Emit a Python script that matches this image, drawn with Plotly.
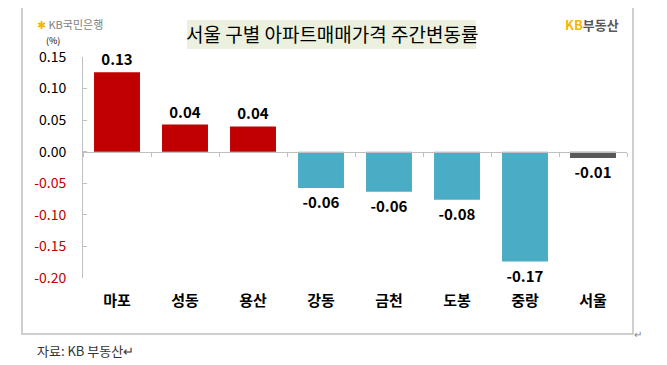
import plotly.graph_objects as go

categories = ["마포", "성동", "용산", "강동", "금천", "도봉", "중랑", "서울"]
values = [0.126, 0.043, 0.040, -0.0575, -0.0635, -0.076, -0.174, -0.0098]
labels = ["0.13", "0.04", "0.04", "-0.06", "-0.06", "-0.08", "-0.17", "-0.01"]
colors = ["#C00000", "#C00000", "#C00000", "#4BACC6", "#4BACC6", "#4BACC6", "#4BACC6", "#595959"]
ytick_vals = [0.15, 0.10, 0.05, 0.00, -0.05, -0.10, -0.15, -0.20]
ytick_text = ["0.15", "0.10", "0.05", "0.00", "-0.05", "-0.10", "-0.15", "-0.20"]

# page body has an 8px margin; work in reference pixel coordinates and shift
O = 8
W, H = 667 - O, 365 - O
L, T = 83 - O, 57 - O
PW, PH = 544, 221
R, B = W - L - PW, H - T - PH
FONT = "Noto Sans CJK KR"


def px(x):
    return (x - O - L) / PW


def py(y):
    return 1 - (y - O - T) / PH


def tick_label(v, t):
    if v < 0:
        return f"<span style='color:#C00000'>{t}</span>"
    return t


fig = go.Figure()
fig.add_trace(go.Bar(
    x=categories, y=values, marker=dict(color=colors, line=dict(width=0)),
    text=labels, textposition="outside", cliponaxis=False,
    textfont=dict(family=FONT, size=15, color="#000000", weight="bold"),
    hoverinfo="skip", xaxis="x", yaxis="y",
))
# invisible trace carrying the bottom category labels
fig.add_trace(go.Scatter(
    x=categories, y=[0] * len(categories), mode="markers",
    marker=dict(opacity=0), hoverinfo="skip", xaxis="x2", yaxis="y", showlegend=False,
))

fig.update_layout(
    width=W, height=H, margin=dict(l=L, r=R, t=T, b=B, autoexpand=False),
    paper_bgcolor="white", plot_bgcolor="white", showlegend=False,
    bargap=0.324,
    font=dict(family=FONT, size=14, color="#000000"),
    xaxis=dict(
        type="category", anchor="free", position=0.2 / 0.35,
        showline=True, linecolor="#BFBFBF", linewidth=1,
        ticks="outside", tickson="boundaries", ticklen=4, tickcolor="#BFBFBF",
        showticklabels=False, showgrid=False, zeroline=False, fixedrange=True,
    ),
    xaxis2=dict(
        type="category", overlaying="x", side="bottom", anchor="y",
        showline=False, ticks="", showgrid=False, zeroline=False,
        tickfont=dict(family=FONT, size=15, color="#000000", weight="bold"),
        ticklabelstandoff=12, matches="x",
    ),
    yaxis=dict(
        range=[-0.20, 0.15], tickvals=ytick_vals,
        ticktext=[tick_label(v, t) for v, t in zip(ytick_vals, ytick_text)],
        showline=True, linecolor="#BFBFBF", linewidth=1,
        ticks="inside", ticklen=4, tickcolor="#BFBFBF",
        showgrid=False, zeroline=False, ticklabelstandoff=13,
        tickfont=dict(family=FONT, size=14, color="#000000"),
    ),
)

shapes = [
    # outer frame
    dict(type="rect", xref="paper", yref="paper", x0=px(22), x1=px(633), y0=py(334), y1=py(7),
         line=dict(color="#C0C0C0", width=1.5), fillcolor="rgba(0,0,0,0)", layer="below"),
    # title box
    dict(type="rect", xref="paper", yref="paper", x0=px(187), x1=px(476), y0=py(49), y1=py(20),
         line=dict(width=0), fillcolor="#EBF1DE", layer="below"),
]
fig.update_layout(shapes=shapes)

ann = [
    dict(x=px(332), y=py(34), text="서울 구별 아파트매매가격 주간변동률",
         font=dict(family=FONT, size=19, color="#000000")),
    dict(x=px(53), y=py(40), text="(%)", font=dict(family=FONT, size=9, color="#000000")),
    dict(x=px(35), y=py(24), xanchor="left",
         text="<span style='color:#F5B800'>✱</span> <span style='color:#7F7F7F'>KB국민은행</span>",
         font=dict(family=FONT, size=11)),
    dict(x=px(621), y=py(24), xanchor="right",
         text="<span style='color:#F5B800'>KB</span><span style='color:#595959'>부동산</span>",
         font=dict(family=FONT, size=13, weight="bold")),
    dict(x=px(35), y=py(350), xanchor="left", text="자료: KB 부동산↵",
         font=dict(family=FONT, size=13, color="#333333")),
    dict(x=px(638), y=py(333), text="↵", font=dict(family=FONT, size=10, color="#808080")),
]
for a in ann:
    a.setdefault("xanchor", "center")
    a.update(xref="paper", yref="paper", showarrow=False, yanchor="middle")
fig.update_layout(annotations=ann)

fig.write_html("out.html")
